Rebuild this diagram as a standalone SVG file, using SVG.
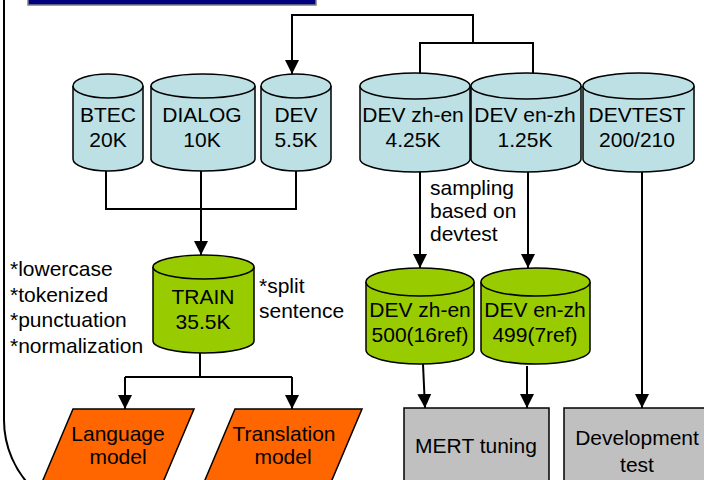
<svg xmlns="http://www.w3.org/2000/svg" width="704" height="480" viewBox="0 0 704 480">
<defs>
<marker id="arr" markerUnits="userSpaceOnUse" markerWidth="14" markerHeight="14" refX="14" refY="7" orient="auto">
<path d="M0,0 L14,7 L0,14 z" fill="#000"/>
</marker>
<style>
text{font-family:"Liberation Sans",Arial,sans-serif;font-size:21px;fill:#000}
.c{text-anchor:middle}
.cylb{fill:#BCE0E4;stroke:#000;stroke-width:1.5}
.cylg{fill:#99CC00;stroke:#000;stroke-width:1.5}
.par{fill:#FF6600;stroke:#000;stroke-width:1.5}
.box{fill:#C0C0C0;stroke:#000;stroke-width:1.5}
.ln{fill:none;stroke:#000;stroke-width:2}
</style>
</defs>
<rect width="704" height="480" fill="#fff"/>
<rect x="28" y="-5" width="288" height="10" fill="#000080" stroke="#808080" stroke-width="1.5"/>
<path d="M4,-5 V420 A96,96 0 0 0 34.3,490" fill="none" stroke="#000" stroke-width="2"/>

<g id="connectors">
<path class="ln" d="M473,43 V15 H292 V74" marker-end="url(#arr)"/>
<path class="ln" d="M420,74 V43 H533 V74"/>
<path class="ln" d="M106,171 V209 H296 V171"/>
<path class="ln" d="M201,171 V255" marker-end="url(#arr)"/>
<path class="ln" d="M420,171 V268" marker-end="url(#arr)"/>
<path class="ln" d="M528,171 V268" marker-end="url(#arr)"/>
<path class="ln" d="M423,364 L425,408" marker-end="url(#arr)"/>
<path class="ln" d="M527,366 V408" marker-end="url(#arr)"/>
<path class="ln" d="M642,172 V408" marker-end="url(#arr)"/>
<path class="ln" d="M200,353 V377"/>
<path class="ln" d="M125,377 H292"/>
<path class="ln" d="M125,377 V409" marker-end="url(#arr)"/>
<path class="ln" d="M292,377 V409" marker-end="url(#arr)"/>
</g>

<g id="btec">
<path class="cylb" d="M73,86 V159 A35,12 0 0 0 143,159 V86"/>
<ellipse class="cylb" cx="108" cy="86" rx="35" ry="12"/>
<text class="c" x="108" y="122">BTEC</text>
<text class="c" x="108" y="147">20K</text>
</g>
<g id="dialog">
<path class="cylb" d="M151,86 V159 A52,12 0 0 0 255,159 V86"/>
<ellipse class="cylb" cx="203" cy="86" rx="52" ry="12"/>
<text class="c" x="202" y="122">DIALOG</text>
<text class="c" x="202" y="147">10K</text>
</g>
<g id="dev">
<path class="cylb" d="M261,86 V159 A35,12 0 0 0 331,159 V86"/>
<ellipse class="cylb" cx="296" cy="86" rx="35" ry="12"/>
<text class="c" x="296" y="122">DEV</text>
<text class="c" x="296" y="147">5.5K</text>
</g>
<g id="dev-zhen">
<path class="cylb" d="M360,86 V159 A55,13 0 0 0 470,159 V86"/>
<ellipse class="cylb" cx="415" cy="86" rx="55" ry="13"/>
<text class="c" x="413" y="122">DEV zh-en</text>
<text class="c" x="413" y="147">4.25K</text>
</g>
<g id="dev-enzh">
<path class="cylb" d="M471,86 V159 A55,13 0 0 0 581,159 V86"/>
<ellipse class="cylb" cx="526" cy="86" rx="55" ry="13"/>
<text class="c" x="525" y="122">DEV en-zh</text>
<text class="c" x="525" y="147">1.25K</text>
</g>
<g id="devtest">
<path class="cylb" d="M583,86 V159 A55.5,13 0 0 0 694,159 V86"/>
<ellipse class="cylb" cx="638.5" cy="86" rx="55.5" ry="13"/>
<text class="c" x="637" y="122">DEVTEST</text>
<text class="c" x="637" y="147">200/210</text>
</g>

<g id="train">
<path class="cylg" d="M153,267 V341 A50.5,12 0 0 0 254,341 V267"/>
<ellipse class="cylg" cx="203.5" cy="267" rx="50.5" ry="12"/>
<text class="c" x="203" y="304">TRAIN</text>
<text class="c" x="203" y="329">35.5K</text>
</g>
<g id="dev-zhen-s">
<path class="cylg" d="M366,282 V350 A54,14 0 0 0 474,350 V282"/>
<ellipse class="cylg" cx="420" cy="282" rx="54" ry="14"/>
<text class="c" x="420" y="317">DEV zh-en</text>
<text class="c" x="420" y="342">500(16ref)</text>
</g>
<g id="dev-enzh-s">
<path class="cylg" d="M481,282 V350 A54.5,14 0 0 0 590,350 V282"/>
<ellipse class="cylg" cx="535.5" cy="282" rx="54.5" ry="14"/>
<text class="c" x="535" y="317">DEV en-zh</text>
<text class="c" x="535" y="342">499(7ref)</text>
</g>

<g id="notes-left">
<text x="10" y="276">*lowercase</text>
<text x="10" y="302">*tokenized</text>
<text x="10" y="327">*punctuation</text>
<text x="10" y="353">*normalization</text>
</g>
<g id="notes-split">
<text x="259" y="293">*split</text>
<text x="259" y="318">sentence</text>
</g>
<g id="notes-sampling">
<text x="430" y="195">sampling</text>
<text x="430" y="218">based on</text>
<text x="430" y="241">devtest</text>
</g>

<g id="language-model">
<polygon class="par" points="73,409 194,409 155.5,500 34.5,500"/>
<text class="c" x="118" y="441">Language</text>
<text class="c" x="118" y="464">model</text>
</g>
<g id="translation-model">
<polygon class="par" points="235,409 362,409 323.5,500 196.5,500"/>
<text class="c" x="284" y="441">Translation</text>
<text class="c" x="283" y="464">model</text>
</g>
<g id="mert">
<rect class="box" x="404" y="408" width="145" height="90"/>
<text class="c" x="476" y="453">MERT tuning</text>
</g>
<g id="devtest-box">
<rect class="box" x="564" y="408" width="150" height="90"/>
<text class="c" x="637" y="445">Development</text>
<text class="c" x="637" y="472">test</text>
</g>
</svg>
